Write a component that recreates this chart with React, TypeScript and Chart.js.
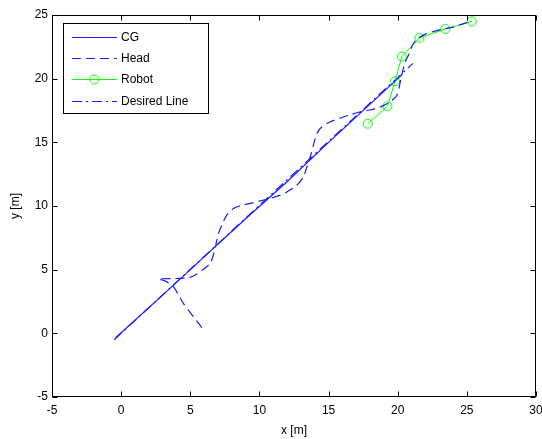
import React, { useEffect, useRef } from "react";
import { Chart, registerables } from "chart.js";

Chart.register(...registerables);

// ---- data ----
const xTicks = [-5, 0, 5, 10, 15, 20, 25, 30];
const yTicks = [-5, 0, 5, 10, 15, 20, 25];

const seriesLabels = ["CG", "Head", "Robot", "Desired Line"];

const cgX = [-0.4, 3.0, 6.0, 9.0, 12.0, 15.0, 18.0, 20.3];
const cgY = [-0.35, 3.0, 6.0, 9.0, 11.9, 15.0, 18.0, 20.3];

const headX = [5.84, 4.5, 3.78, 3.2, 2.7, 3.8, 4.87, 5.23, 5.95, 6.44, 6.67, 6.87, 7.04, 7.28, 7.64, 8.12, 8.73, 9.33, 10.05, 10.77, 11.5, 11.98, 12.7, 13.18, 13.43, 13.67, 13.9, 14.15, 14.5, 15.1, 15.83, 16.56, 17.04, 17.77, 18.37, 19.0, 19.6, 19.93, 20.1, 20.3, 20.5, 20.8, 21.1, 21.4, 22.0, 23.1, 24.0, 25.0];
const headY = [0.45, 2.36, 3.66, 4.1, 4.27, 4.3, 4.37, 4.5, 5.03, 5.5, 6.15, 7.06, 7.85, 8.5, 9.28, 9.8, 10.06, 10.2, 10.4, 10.59, 10.85, 11.1, 11.63, 12.28, 13.06, 13.85, 14.76, 15.68, 16.2, 16.6, 16.9, 17.16, 17.32, 17.5, 17.63, 17.9, 18.3, 18.68, 19.3, 20.3, 21.2, 21.9, 22.7, 23.1, 23.5, 23.85, 24.05, 24.4];

const robotX = [17.84, 19.26, 19.81, 20.3, 21.57, 23.45, 25.36];
const robotY = [16.46, 17.84, 19.8, 21.73, 23.2, 23.9, 24.5];

const desiredX = [-0.5, 21.1];
const desiredY = [-0.5, 21.2];

const xTitle = "x [m]";
const yTitle = "y [m]";

const FONT = "'Liberation Sans', Arial, sans-serif";

function toPts(xs: number[], ys: number[]) {
  return xs.map((x, i) => ({ x, y: ys[i] }));
}

export default function App() {
  const ref = useRef<HTMLCanvasElement>(null);

  useEffect(() => {
    if (!ref.current) return;

    const matlabPlugin = {
      id: "matlabBox",
      afterDatasetsDraw(chart: any) {
        const ctx = chart.ctx;
        const a = chart.chartArea;
        const xs = chart.scales.x;
        const ys = chart.scales.y;
        ctx.save();
        ctx.strokeStyle = "#000";
        ctx.lineWidth = 1;
        ctx.setLineDash([]);
        const L = Math.round(a.left) + 0.5;
        const R = Math.round(a.right) - 0.5;
        const T = Math.round(a.top) + 0.5;
        const B = Math.round(a.bottom) - 0.5;
        ctx.strokeRect(L, T, R - L, B - T);
        const tl = 5;
        ctx.beginPath();
        xTicks.forEach((v) => {
          const px = Math.round(xs.getPixelForValue(v)) + 0.5;
          ctx.moveTo(px, B);
          ctx.lineTo(px, B - tl);
          ctx.moveTo(px, T);
          ctx.lineTo(px, T + tl);
        });
        yTicks.forEach((v) => {
          const py = Math.round(ys.getPixelForValue(v)) + 0.5;
          ctx.moveTo(L, py);
          ctx.lineTo(L + tl, py);
          ctx.moveTo(R, py);
          ctx.lineTo(R - tl, py);
        });
        ctx.stroke();
        ctx.restore();
      },
      afterDraw(chart: any) {
        const ctx = chart.ctx;
        ctx.save();
        const bx = 63.5, by = 23.5, bw = 145, bh = 90;
        ctx.fillStyle = "#fff";
        ctx.fillRect(bx, by, bw, bh);
        ctx.strokeStyle = "#000";
        ctx.lineWidth = 1;
        ctx.setLineDash([]);
        ctx.strokeRect(bx, by, bw, bh);
        ctx.font = `12px ${FONT}`;
        ctx.textBaseline = "middle";
        ctx.textAlign = "left";
        chart.data.datasets.forEach((ds: any, i: number) => {
          const y = Math.round(36.7 + i * 21.3) + 0.5;
          ctx.strokeStyle = ds.borderColor;
          ctx.lineWidth = ds.borderWidth;
          ctx.setLineDash(ds.borderDash || []);
          ctx.beginPath();
          ctx.moveTo(72, y);
          ctx.lineTo(117, y);
          ctx.stroke();
          ctx.setLineDash([]);
          if (ds.pointRadius > 0) {
            ctx.beginPath();
            ctx.arc(94.5, y, ds.pointRadius, 0, Math.PI * 2);
            ctx.strokeStyle = ds.pointBorderColor;
            ctx.lineWidth = 1;
            ctx.stroke();
          }
          ctx.fillStyle = "#000";
          ctx.fillText(ds.label, 121, y);
        });
        ctx.restore();
      },
    };

    const tickFont = { family: FONT, size: 12 };
    const BLUE = "#1a1aff";

    const chart = new Chart(ref.current, {
      type: "scatter",
      data: {
        datasets: [
          {
            label: seriesLabels[0],
            data: toPts(cgX, cgY),
            showLine: true,
            borderColor: BLUE,
            borderWidth: 1.2,
            pointRadius: 0,
            tension: 0,
          },
          {
            label: seriesLabels[1],
            data: toPts(headX, headY),
            showLine: true,
            borderColor: BLUE,
            borderWidth: 1.2,
            borderDash: [9, 5],
            pointRadius: 0,
            tension: 0.25,
          },
          {
            label: seriesLabels[2],
            data: toPts(robotX, robotY),
            showLine: true,
            borderColor: "#00ff00",
            borderWidth: 1,
            pointRadius: 4.5,
            pointBorderColor: "#00ff00",
            pointBackgroundColor: "rgba(0,0,0,0)",
            pointBorderWidth: 1,
            tension: 0,
          },
          {
            label: seriesLabels[3],
            data: toPts(desiredX, desiredY),
            showLine: true,
            borderColor: BLUE,
            borderWidth: 1.2,
            borderDash: [10, 4, 2, 4],
            pointRadius: 0,
            tension: 0,
          },
        ],
      } as any,
      options: {
        animation: false,
        responsive: false,
        events: [],
        layout: { padding: { top: 15, right: 6, left: 0, bottom: 0 } },
        plugins: { legend: { display: false }, tooltip: { enabled: false } },
        scales: {
          x: {
            type: "linear",
            min: -5,
            max: 30,
            afterBuildTicks: (s: any) => {
              s.ticks = xTicks.map((v) => ({ value: v }));
            },
            grid: { display: false, drawTicks: false },
            border: { display: false },
            ticks: {
              color: "#000",
              font: tickFont,
              padding: 6,
              maxRotation: 0,
              autoSkip: false,
            },
            title: {
              display: true,
              text: xTitle,
              color: "#000",
              font: tickFont,
              padding: { top: 0, bottom: 1 },
            },
            afterFit: (s: any) => {
              s.height = 42;
              s.paddingLeft = 0;
              s.paddingRight = 0;
            },
          },
          y: {
            type: "linear",
            min: -5,
            max: 25,
            afterBuildTicks: (s: any) => {
              s.ticks = yTicks.map((v) => ({ value: v }));
            },
            grid: { display: false, drawTicks: false },
            border: { display: false },
            ticks: {
              color: "#000",
              font: tickFont,
              padding: 4,
              autoSkip: false,
            },
            title: {
              display: true,
              text: yTitle,
              color: "#000",
              font: tickFont,
              padding: { top: 8, bottom: 0 },
            },
            afterFit: (s: any) => {
              s.width = 52;
              s.paddingTop = 0;
              s.paddingBottom = 0;
            },
          },
        },
      } as any,
      plugins: [matlabPlugin],
    });

    return () => chart.destroy();
  }, []);

  return (
    <div style={{ position: "fixed", left: 0, top: 0, width: 542, height: 439, background: "#fff" }}>
      <canvas ref={ref} width={542} height={439} style={{ width: 542, height: 439, display: "block" }} />
    </div>
  );
}
